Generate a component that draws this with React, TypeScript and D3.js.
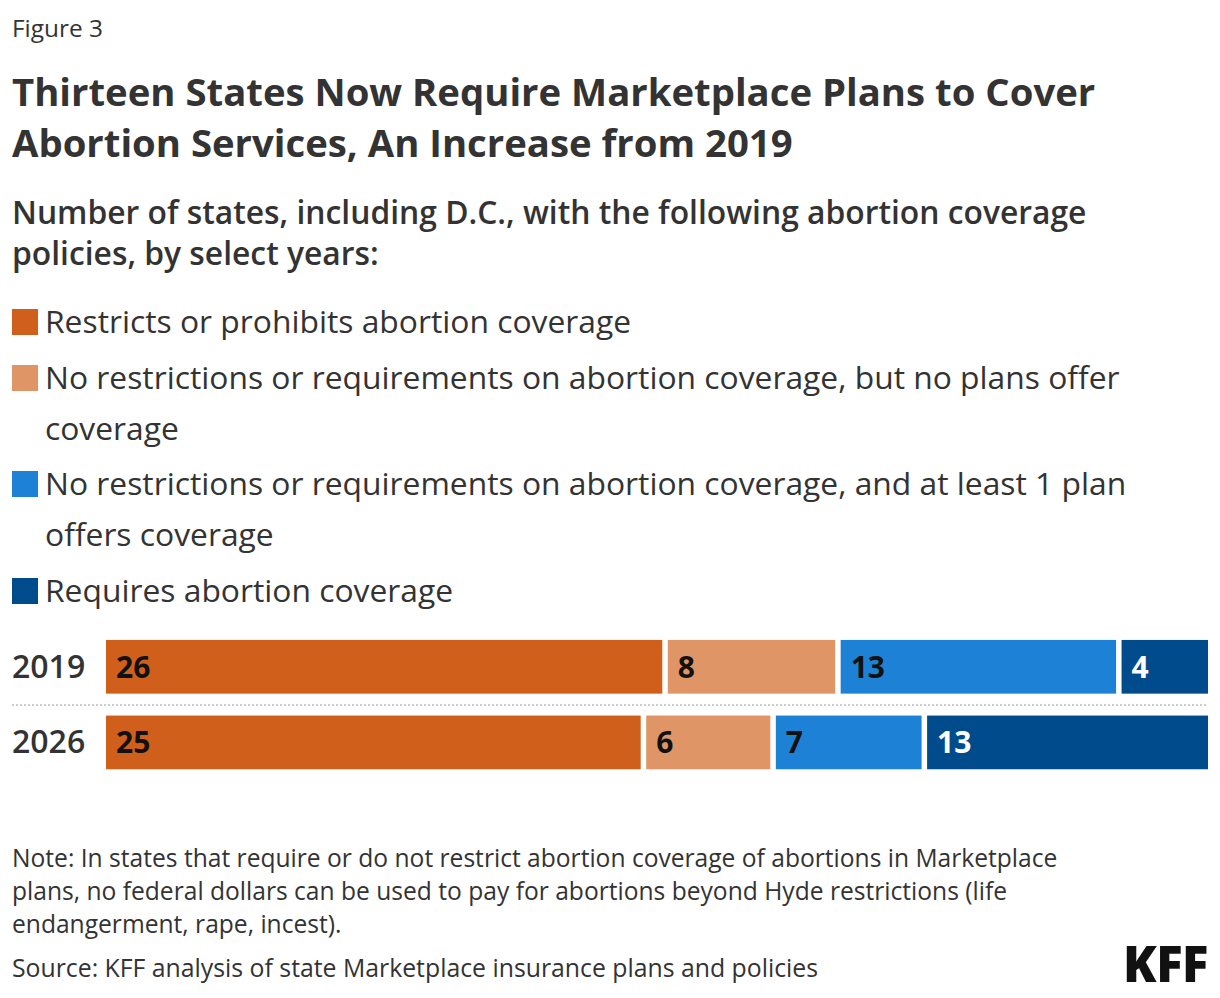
import * as React from 'react';
import * as d3 from 'd3';

const years = ['2019', '2026'];
const categories = [
  'Restricts or prohibits abortion coverage',
  'No restrictions or requirements on abortion coverage, but no plans offer coverage',
  'No restrictions or requirements on abortion coverage, and at least 1 plan offers coverage',
  'Requires abortion coverage',
];
const values2019 = [26, 8, 13, 4];
const values2026 = [25, 6, 7, 13];
const colors = ['#cf5f1a', '#df9566', '#1d82d6', '#004b8b'];
const labelColors = ['#111', '#111', '#111', '#fff'];

// legend lines as wrapped in the original
const legendLines = [
  ['Restricts or prohibits abortion coverage'],
  ['No restrictions or requirements on abortion coverage, but no plans offer', 'coverage'],
  ['No restrictions or requirements on abortion coverage, and at least 1 plan', 'offers coverage'],
  ['Requires abortion coverage'],
];
const noteLines = [
  'Note: In states that require or do not restrict abortion coverage of abortions in Marketplace',
  'plans, no federal dollars can be used to pay for abortions beyond Hyde restrictions (life',
  'endangerment, rape, incest).',
];
const source = 'Source: KFF analysis of state Marketplace insurance plans and policies';

const W = 1204;
const H = 990;
const font = '"Open Sans", sans-serif';
const ink = '#333333';

const App: React.FC = () => {
  const series = [values2019, values2026];
  const total = d3.sum(values2019);
  const x = d3.scaleLinear().domain([0, total]).range([98, 1200]);
  const y = d3.scaleBand().domain(years).range([620.6, 772.6]).paddingInner(0.29).paddingOuter(0.15);
  const gap = 5.5;

  const legendStart = [325, 381, 487, 594];

  return (
    <svg width={W} height={H} style={{ display: 'block', fontFamily: font }}>
      <text x={4} y={29} fontSize={24.4} fill={ink}>Figure 3</text>
      <text x={4} y={98} fontSize={38.3} fontWeight={700} fill={ink}>Thirteen States Now Require Marketplace Plans to Cover</text>
      <text x={4} y={149} fontSize={38.3} fontWeight={700} fill={ink}>Abortion Services, An Increase from 2019</text>
      <text x={4} y={216} fontSize={31.8} fontWeight={600} fill={ink}>Number of states, including D.C., with the following abortion coverage</text>
      <text x={4} y={257} fontSize={31.8} fontWeight={600} fill={ink}>policies, by select years:</text>

      {categories.map((c, i) => (
        <g key={c}>
          <rect x={4} y={legendStart[i] - 24} width={26} height={26} fill={colors[i]} />
          {legendLines[i].map((ln, j) => (
            <text key={j} x={37} y={legendStart[i] + j * 51} fontSize={31.8} fill={ink}>{ln}</text>
          ))}
        </g>
      ))}

      <line x1={4} x2={1200} y1={697} y2={697} stroke="#cccccc" strokeWidth={2} strokeDasharray="2,2" />

      {years.map((yr, r) => {
        const vals = series[r];
        let acc = 0;
        const yy = y(yr)!;
        const bh = y.bandwidth();
        return (
          <g key={yr}>
            <text x={4} y={yy + bh / 2 + 11} fontSize={32} fontWeight={600} fill={ink}>{yr}</text>
            {vals.map((v, i) => {
              const x0 = x(acc);
              acc += v;
              const x1 = x(acc) - (i < vals.length - 1 ? gap : 0);
              return (
                <g key={i}>
                  <rect x={x0} y={yy} width={x1 - x0} height={bh} fill={colors[i]} />
                  <text x={x0 + 10} y={yy + bh / 2 + 11} fontSize={30} fontWeight={700} fill={labelColors[i]}>{v}</text>
                </g>
              );
            })}
          </g>
        );
      })}

      {noteLines.map((ln, i) => (
        <text key={i} x={4} y={859 + i * 33} fontSize={24.6} fill={ink}>{ln}</text>
      ))}
      <text x={4} y={969} fontSize={24.8} fill={ink}>{source}</text>
      <text x={1200} y={974} textAnchor="end" fontSize={49} fontWeight={800} fill="#111" letterSpacing={-0.5}>KFF</text>
    </svg>
  );
};

export default App;
